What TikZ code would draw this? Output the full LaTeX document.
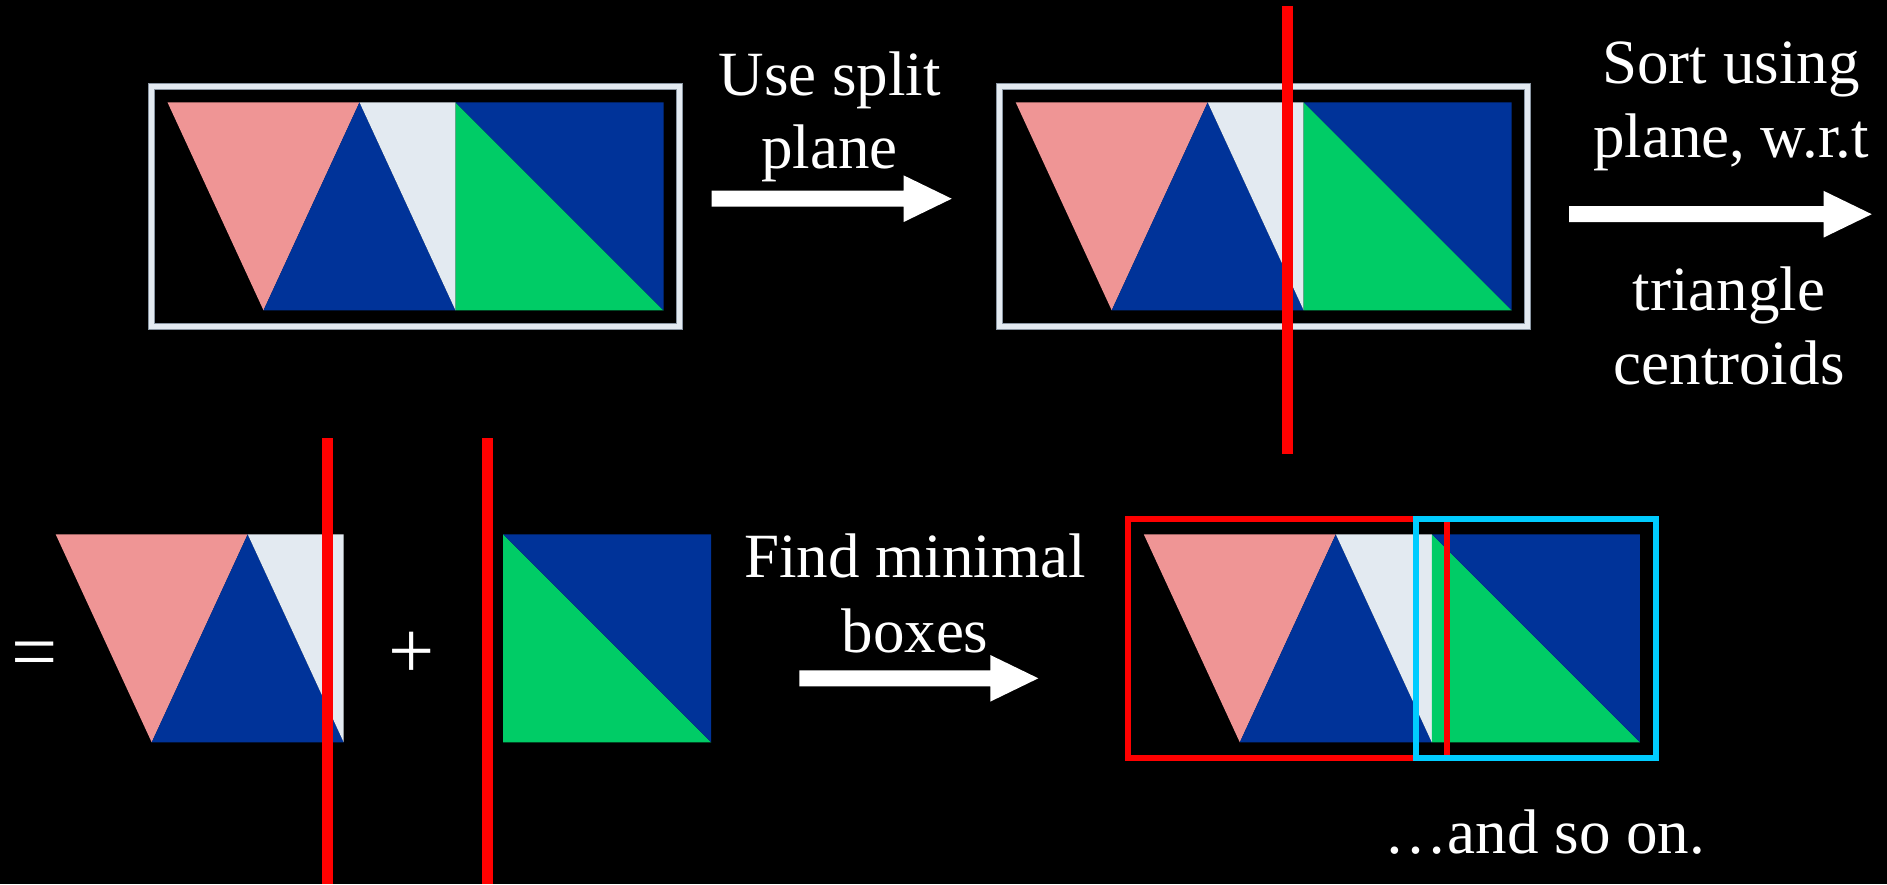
\documentclass[tikz,border=0pt]{standalone}
\usepackage{fontspec}
\setmainfont{Liberation Serif}
\usetikzlibrary{calc}
\definecolor{pinkc}{HTML}{EF9595}
\definecolor{bluec}{HTML}{003399}
\definecolor{greenc}{HTML}{00CC66}
\definecolor{lightc}{HTML}{E3EAF1}
\definecolor{edgec}{HTML}{8A96A3}
\definecolor{redc}{HTML}{FF0000}
\definecolor{cyanc}{HTML}{00CCFF}
\begin{document}
\begin{tikzpicture}[x=1pt,y=-1pt,
  % triangle soup, left half (pink, blue, light) and right half (green, blue)
  leftpart/.pic={
    \fill[pinkc]  (0,0) -- (192,0) -- (96,208) -- cycle;
    \fill[bluec]  (96,208) -- (192,0) -- (288,208) -- cycle;
    \fill[lightc] (192,0) -- (288,0) -- (288,208) -- cycle;
  },
  rightpart/.pic={
    \fill[greenc] (288,0) -- (288,208) -- (496,208) -- cycle;
    \fill[bluec]  (288,0) -- (496,0) -- (496,208) -- cycle;
  },
  bbox/.style={draw=edgec, line width=7pt},
  bboxin/.style={draw=lightc, line width=5pt},
  splitline/.style={draw=redc, line width=11pt},
  lbl/.style={text=white, align=center, inner sep=0pt},
  blockarrow/.style={fill=white, to path={
    let \p1=(\tikztostart), \p2=(\tikztotarget) in
    (\x1,\y1+8pt) -- (\x2-48pt,\y1+8pt) -- (\x2-48pt,\y1+23.3pt) -- (\x2,\y2)
    -- (\x2-48pt,\y1-23.3pt) -- (\x2-48pt,\y1-8pt) -- (\x1,\y1-8pt) -- cycle}}
]
\fill[black] (0,0) rectangle (1887,884);
\useasboundingbox (0,0) rectangle (1887,884);

% first stage: all triangles in one bounding box
\draw[bbox]   (151.1,86.3) rectangle (679.6,326.3);
\draw[bboxin] (151.1,86.3) rectangle (679.6,326.3);
\pic at (167.5,102.3) {leftpart};
\pic at (167.5,102.3) {rightpart};

% second stage: the split plane
\draw[bbox]   (999.3,86.3) rectangle (1527.8,326.3);
\draw[bboxin] (999.3,86.3) rectangle (1527.8,326.3);
\pic at (1015.7,102.3) {leftpart};
\pic at (1015.7,102.3) {rightpart};
\coordinate (s1a) at (1287.5,6);
\coordinate (s1b) at (1287.5,454);
\draw[splitline] (s1a) -- (s1b);

% third stage: the two sorted halves
\node[lbl, font=\fontsize{82}{90}\selectfont] (eq) at (35,661) {=};
\pic at (55.7,534.3) {leftpart};
\coordinate (s2a) at (327.3,438);
\coordinate (s2b) at (327.3,884);
\draw[splitline] (s2a) -- (s2b);
\node[lbl, font=\fontsize{82}{90}\selectfont] (plus) at (411.5,655) {+};
\coordinate (s3a) at (487.5,438);
\coordinate (s3b) at (487.5,884);
\draw[splitline] (s3a) -- (s3b);
\pic at (215.1,534.3) {rightpart};

% fourth stage: minimal boxes of each half
\pic at (1143.8,534.3) {leftpart};
\pic at (1143.8,534.3) {rightpart};
\draw[draw=redc, line width=6pt] (1127.6,518.5) rectangle (1447,758.3);
\draw[draw=cyanc, line width=6pt] (1415.7,518.5) rectangle (1655.5,758.3);

% arrows
\coordinate (a1s) at (711.7,198.7);
\coordinate (a1e) at (951.7,198.7);
\path[blockarrow] (a1s) to (a1e);
\coordinate (a2s) at (1569,214.2);
\coordinate (a2e) at (1871.7,214.2);
\path[blockarrow] (a2s) to (a2e);
\coordinate (a3s) at (799.3,678.3);
\coordinate (a3e) at (1038.3,678.3);
\path[blockarrow] (a3s) to (a3e);

% labels (anchored at the baseline of their last line)
\node[lbl, anchor=base, font=\fontsize{63}{73}\selectfont] (t1) at (829.7,168.5) {Use split\\plane};
\node[lbl, anchor=base, font=\fontsize{63}{74}\selectfont] (t2) at (1731,157) {Sort using\\plane, w.r.t};
\node[lbl, anchor=base, font=\fontsize{63}{74}\selectfont] (t3) at (1729,384) {triangle\\centroids};
\node[lbl, anchor=base, font=\fontsize{63}{75}\selectfont] (t4) at (915,652) {Find minimal\\boxes};
\node[lbl, anchor=base, font=\fontsize{63}{72}\selectfont] (t5) at (1545,853.3) {…and so on.};
\end{tikzpicture}
\end{document}
